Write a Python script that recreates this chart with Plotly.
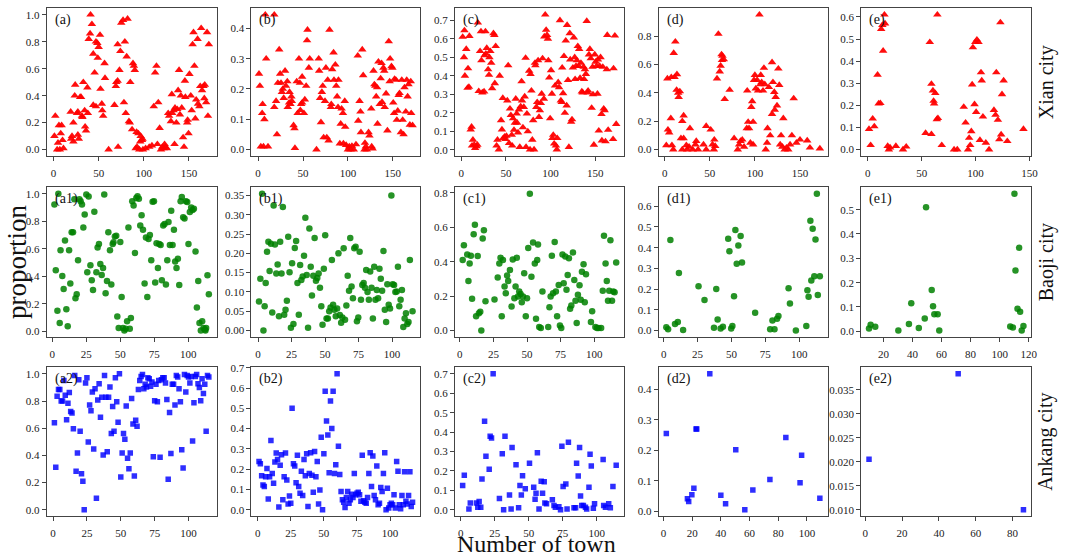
import plotly.graph_objects as go

# ---- values (x = number of town, y = proportion) ----
a_pts = [(1,0.10),(2,0.25),(4,0.0),(5,0.05),(6,0.18),(7,0.0),(8,0.12),(9,0.18),(10,0.07),(11,0.01),
         (19,0.28),(19.5,0.08),(20.5,0.10),(22,0.06),(22,0.20),(23.5,0.40),(24,0.48),(26,0.27),(27,0.11),(27,0.28),
         (28,0.08),(29.5,0.39),(30.5,0.39),(31.5,0.25),(32,0.24),(33,0.50),(34.5,0.29),(35,0.17),(36,0.14),(37.5,0.46),
         (38,0.27),(39,0.82),(40.5,0.86),(41,1.0),(42.5,0.93),(44,0.71),(44,0.33),(45.5,0.57),(47,0.32),(47,0.80),
         (48.5,0.79),(49,0.68),(50,0.76),(51.5,0.85),(52,0.45),(53.5,0.34),(54,0.29),(55,0.25),(56.5,0.64),(57,0.53),
         (61,0.0),(67.5,0.33),(69,0.47),(69.5,0.50),(71,0.78),(71,0.51),(71.5,0.02),(73,0.59),(74,0.73),(75,0.94),
         (77,0.96),(78,0.35),(79,0.80),(80,0.27),(81,0.69),(82,0.97),(83.5,0.21),(84.5,0.20),(85,0.50),(87,0.15),
         (88,0.64),(89,0.62),(90,0.59),(91,0.01),(92,0.13),(92.5,0.02),(94,0.12),(95,0.0),(96,0.06),(96.5,0.10),
         (98,0.07),(98.5,0.08),(99,0.0),(102,0.01),(106,0.02),(109,0.03),(111,0.32),(112.5,0.57),(114,0.62),(115,0.04),
         (116,0.35),(117.5,0.16),(119,0.0),(120.5,0.02),(122,0.01),(123,0.04),(124,0.02),(125.5,0.01),(127,0.27),(128,0.25),
         (130,0.21),(131,0.41),(131.5,0.27),(133,0.29),(134,0.04),(134.5,0.31),(136,0.20),(137,0.30),(138,0.44),(139,0.59),
         (140,0.26),(141,0.40),(142,0.31),(143.5,0.09),(144.5,0.02),(145.5,0.51),(146,0.39),(148,0.20),(148.5,0.22),(149.5,0.12),
         (150.5,0.56),(152,0.40),(153,0.29),(154,0.78),(155,0.87),(156,0.62),(157,0.23),(158,0.37),(159.5,0.82),(160,0.34),
         (161.5,0.32),(162.5,0.47),(163.5,0.90),(164.5,0.44),(166,0.47),(167,0.38),(167.5,0.48),(169,0.35),(170,0.87),(171,0.25),
         (172,0.78)]

b_pts = [(1,0.25),(2,0.21),(3,0.01),(4.5,0.12),(5,0.15),(6,0.01),(7,0.10),(8,0.445),(9,0.30),(11,0.01),
         (18,0.445),(18,0.14),(20,0.16),(21,0.05),(22,0.22),(23.5,0.33),(24.5,0.25),(25.5,0.22),(26.5,0.19),(27.5,0.20),
         (28.5,0.17),(30,0.26),(31,0.21),(32.5,0.225),(33,0.14),(34.5,0.155),(35,0.19),(36,0.15),(37,0.175),(37.5,0.16),
         (39.5,0.08),(40.5,0.07),(41,0.005),(43,0.225),(44,0.12),(45.5,0.30),(46.5,0.22),(47,0.13),(48,0.15),(49,0.24),
         (49,0.155),(51,0.12),(52,0.165),(53.5,0.21),(54.5,0.36),(55,0.395),(56.5,0.27),(57.5,0.30),(65,0.0),(67.5,0.30),
         (68,0.26),(69,0.17),(70,0.09),(71,0.19),(72,0.21),(73,0.04),(74.5,0.16),(75.5,0.27),(76.5,0.04),(77.5,0.23),
         (78.5,0.03),(79.5,0.395),(81,0.14),(81.5,0.15),(82.5,0.265),(84,0.32),(84.5,0.23),(86,0.28),(87,0.21),(88,0.175),
         (89,0.14),(89.5,0.23),(91,0.02),(92,0.085),(93,0.135),(94.5,0.12),(95,0.02),(96.5,0.16),(97,0.075),(98,0.015),
         (100,0.0),(101.5,0.01),(103,0.0),(104.5,0.012),(106.5,0.0),(109,0.017),(111,0.31),(111.5,0.095),(113,0.16),(114,0.125),
         (114.5,0.057),(116,0.33),(117,0.245),(118.5,0.0),(119,0.022),(120,0.01),(121,0.0),(123,0.057),(124,0.046),(126,0.135),
         (126.5,0.01),(127.5,0.003),(128.5,0.26),(129.5,0.215),(130.5,0.21),(131.5,0.175),(132.5,0.205),(133,0.085),(134,0.29),(135.5,0.15),
         (136.5,0.235),(137.5,0.285),(138,0.157),(139.5,0.27),(140.5,0.26),(141,0.14),(142.5,0.185),(144,0.063),(145.5,0.357),(146.5,0.225),
         (147,0.30),(148.5,0.275),(149.5,0.27),(150.5,0.155),(151.5,0.12),(152,0.233),(153.5,0.23),(154.5,0.098),(155.5,0.128),(156.5,0.18),
         (157.5,0.186),(159,0.057),(160,0.23),(161,0.098),(162,0.05),(163,0.205),(164.5,0.125),(165.5,0.23),(166.5,0.175),(167.5,0.215),
         (169,0.082),(170,0.225),(170.5,0.12),(172,0.08)]

c_pts = [(1.5,0.61),(3,0.50),(3.5,0.645),(4,0.40),(5.5,0.545),(7,0.335),(7.5,0.44),(8.5,0.34),(9,0.615),(10.5,0.11),
         (11.5,0.125),(12,0.023),(13,0.055),(14.5,0.028),(15.5,0.01),(17,0.02),(18,0.028),(18.5,0.687),(19.5,0.317),(21,0.533),
         (22,0.64),(22.5,0.483),(23.5,0.31),(25.5,0.315),(26,0.51),(27,0.64),(27.5,0.52),(28.5,0.55),(30,0.435),(31,0.405),
         (31.5,0.50),(32.5,0.533),(33.5,0.47),(34.5,0.333),(36,0.63),(37,0.62),(37.5,0.36),(38.5,0.56),(39.5,0.023),(40.5,0.055),
         (42,0.002),(43,0.40),(44.5,0.16),(45.5,0.11),(46.5,0.28),(47,0.064),(48.5,0.072),(49.5,0.058),(50.5,0.076),(51.5,0.267),
         (52.5,0.456),(53.5,0.037),(54.5,0.223),(55.5,0.188),(56.5,0.081),(57,0.023),(58,0.17),(59,0.108),(60,0.147),(61,0.276),
         (62,0.196),(62.5,0.147),(63.5,0.094),(64.5,0.218),(65.5,0.016),(66.5,0.235),(67.5,0.37),(68,0.267),(69,0.122),(70,0.232),
         (71,0.288),(72,0.497),(72.5,0.016),(73.5,0.196),(74.5,0.10),(76,0.427),(77,0.002),(77.5,0.41),(78.5,0.32),(79.5,0.055),
         (80.5,0.16),(81.5,0.002),(82.5,0.47),(83,0.456),(84,0.232),(85,0.258),(86,0.483),(87,0.178),(88,0.214),(89,0.253),
         (90,0.303),(91,0.494),(92.5,0.276),(93,0.612),(94,0.73),(95,0.648),(96,0.62),(97,0.60),(97.5,0.483),(98.5,0.39),
         (99.5,0.17),(100.5,0.43),(101.5,0.303),(102,0.064),(103,0.081),(104,0.034),(105,0.347),(106,0.023),(107,0.002),(107.5,0.064),
         (108.5,0.365),(109.5,0.338),(110.5,0.70),(111.5,0.267),(112.5,0.258),(113,0.444),(114,0.306),(115,0.506),(116,0.20),(117,0.59),
         (118,0.24),(118.5,0.674),(119.5,0.377),(120.5,0.016),(121.5,0.63),(122,0.488),(123,0.152),(124,0.165),(125,0.444),(126,0.607),
         (127,0.50),(127.5,0.382),(128.5,0.453),(129.5,0.483),(130.5,0.56),(131.5,0.453),(132,0.545),(133,0.388),(134,0.47),(135,0.315),
         (136,0.31),(137,0.448),(137.5,0.382),(138.5,0.435),(139.5,0.41),(140.5,0.696),(141.5,0.31),(142,0.32),(143,0.515),(144,0.545),
         (145,0.494),(146,0.227),(147,0.448),(147.5,0.30),(148.5,0.028),(149.5,0.515),(150.5,0.476),(151.5,0.453),(152.5,0.303),(153,0.488),
         (154,0.104),(155,0.453),(156,0.50),(157,0.193),(157.5,0.051),(158.5,0.448),(159.5,0.223),(160.5,0.214),(161.5,0.046),(163,0.435),
         (163.5,0.62),(164.5,0.108),(170,0.058),(170.5,0.44),(172,0.617),(173.5,0.14)]

d_pts = [(1.8,0.03),(3,0.50),(3.6,0.14),(5,0.12),(6.8,0.22),(7.3,0.51),(8,0.03),(9.5,0.0),(10,0.68),(11.8,0.76),
         (10.9,0.51),(13.6,0.53),(13.2,0.42),(15,0.40),(15.5,0.37),(16.8,0.41),(18,0.08),(19.5,0.20),(21,0.24),(19.5,0.0),
         (21,0.08),(24,0.03),(25,0.0),(27,0.02),(28,0.15),(31,0.0),(34,0.036),(35,0.06),(37,0.0),(43,0.036),
         (46,0.0),(46,0.166),(51,0.14),(53,0.036),(54.5,0.0),(55,0.07),(56,0.025),(58,0.50),(59.5,0.815),(61,0.55),
         (62,0.59),(63,0.67),(63.5,0.63),(64,0.66),(65.5,0.635),(66.5,0.355),(72,0.42),(77,0.08),(81,0.0),(82.5,0.036),
         (84,0.06),(86,0.07),(88,0.02),(91,0.15),(91.5,0.415),(92.5,0.195),(93.5,0.15),(95,0.048),(96,0.30),(97,0.34),
         (98,0.195),(98,0.036),(99,0.49),(100,0.525),(101,0.43),(102.5,0.49),(103.5,0.415),(105,0.95),(106,0.46),(106.5,0.525),
         (107.5,0.475),(109,0.415),(110,0.575),(111,0.46),(112,0.0),(113.5,0.048),(114,0.15),(115.5,0.44),(117,0.10),(119,0.25),
         (119,0.615),(120,0.475),(121.5,0.405),(122,0.28),(123,0.37),(124.5,0.31),(126,0.57),(127,0.455),(128,0.036),(129,0.10),
         (130.5,0.02),(131.5,0.22),(133,0.0),(135,0.014),(137,0.0),(139,0.036),(141,0.10),(143,0.36),(146,0.048),(150,0.07),
         (158,0.064),(161,0.014),(172,0.007)]

e_pts = [(1.1,0.093),(2.6,0.02),(4.5,0.14),(6,0.105),(9,0.338),(10,0.208),(11.6,0.21),(12.4,0.545),(13.5,0.563),(14.2,0.447),
         (15.4,0.61),(16,0.57),(18.4,0.016),(19.5,0.0),(20.6,0.009),(26,0.016),(32.6,0.0),(35.6,0.013),(53.6,0.075),(57.5,0.486),
         (59,0.07),(59,0.297),(60.4,0.267),(61,0.22),(61.5,0.208),(62.6,0.255),(64,0.137),(64.5,0.61),(65,0.142),(68.6,0.02),
         (80,0.0),(83,0.0),(89,0.193),(90.7,0.122),(93,0.0),(94,0.053),(95,0.02),(96,0.083),(96.8,0.294),(97.5,0.462),
         (99,0.205),(99.7,0.486),(100.5,0.17),(101.2,0.497),(102.7,0.486),(104,0.043),(105,0.349),(105.7,0.312),(106.8,0.149),(109.5,0.031),
         (112.5,0.0),(117,0.179),(118.5,0.157),(119.2,0.349),(120.7,0.134),(122,0.046),(123,0.575),(123.7,0.068),(124.5,0.25),(126,0.312),
         (129.4,0.038),(144.4,0.093)]

a1_pts = [(1.5,0.923),(2.5,0.444),(3.7,0.149),(4.4,1.0),(5.4,0.06),(6,0.59),(7.3,0.403),(8.3,0.307),(9.3,0.66),(10.3,0.16),
          (11.3,0.036),(12.3,0.59),(13.2,0.348),(14.2,0.72),(15.2,0.72),(16.2,0.96),(17,0.24),(17.9,0.27),(18.9,0.516),(19.9,0.96),
          (20.8,0.947),(21.8,0.923),(22.8,0.755),(23.8,0.85),(25,0.995),(25.7,0.43),(26.7,0.98),(28,0.48),(29,0.372),(29.9,0.30),
          (30.9,0.87),(32.4,0.43),(33.3,0.61),(34.3,0.635),(35.3,0.49),(36.3,0.41),(37.3,0.46),(38.2,0.995),(39.2,0.276),(40.2,0.365),
          (41.2,0.72),(42.4,0.59),(43.4,0.34),(44.4,0.635),(45,0.647),(46,0.69),(47,0.695),(47.8,0.108),(48.8,0.024),(50,0.65),
          (51,0.25),(52,0.024),(53,0.005),(54,0.019),(55,0.072),(56,0.755),(57,0.019),(57.8,0.096),(58.8,0.947),(59.8,0.916),
          (60.8,0.57),(61.8,0.97),(62.7,0.983),(63.7,0.964),(64.7,0.77),(65.7,0.844),(66.7,0.738),(67.9,0.348),(68.9,0.683),(69.9,0.25),
          (70.8,0.671),(71.8,0.70),(72.8,0.516),(73.8,0.942),(74.8,0.947),(75.7,0.355),(76.7,0.64),(77.7,0.46),(78.7,0.635),(79.7,0.628),
          (80.6,0.372),(81.6,0.77),(82.6,0.78),(83.6,0.34),(84.6,0.516),(85.5,0.796),(86.5,0.628),(87.5,0.878),(88.5,0.628),(89.5,0.738),
          (90.4,0.508),(91.4,0.46),(92.4,0.528),(93.4,0.336),(94.4,0.947),(95.3,0.978),(96.3,0.83),(97.3,0.82),(98.3,0.947),(99.3,0.94),
          (100.2,0.635),(101.2,0.868),(102.2,0.90),(103.2,0.883),(104.2,0.892),(105.4,0.58),(106.4,0.173),(107.4,0.365),(108.3,0.06),(109.3,0.005),
          (110.3,0.072),(111.3,0.024),(112.3,0.012),(112.7,0.005),(113.2,0.024),(114.2,0.408),(115.2,0.27)]

b1_pts = [(0.7,0.075),(1.7,0.134),(3,0.354),(4,0.0),(4.9,0.063),(5.7,0.123),(6.7,0.204),(7.7,0.23),(8.6,0.154),(9.6,0.225),
          (10.6,0.047),(11.6,0.324),(12.6,0.223),(13.6,0.148),(14.6,0.171),(15.6,0.037),(16.5,0.23),(17.5,0.148),(18.5,0.32),(19.5,0.041),
          (20.5,0.054),(21.5,0.077),(22.5,0.243),(23.5,0.151),(24.5,0.007),(25.4,0.174),(26.4,0.017),(27.4,0.214),(28.4,0.232),(29.4,0.123),
          (30.4,0.041),(31.4,0.17),(32.3,0.131),(33.3,0.14),(34.3,0.194),(35.3,0.292),(36.3,0.144),(37.3,0.007),(38.3,0.264),(39.3,0.165),
          (40.2,0.091),(41.2,0.142),(42.2,0.24),(43.2,0.129),(44.2,0.136),(45.2,0.148),(46.2,0.111),(47.2,0.063),(48.1,0.015),(49.1,0.16),
          (50.1,0.247),(51.1,0.031),(52.1,0.031),(53.1,0.05),(54.1,0.06),(55.1,0.183),(56,0.067),(57,0.054),(58,0.037),(59,0.057),
          (60,0.20),(61,0.04),(62,0.02),(62.9,0.034),(63.9,0.213),(64.9,0.028),(65.9,0.065),(66.9,0.142),(67.9,0.103),(68.8,0.24),
          (69.8,0.114),(70.8,0.084),(71.8,0.213),(72.8,0.217),(73.8,0.024),(74.8,0.034),(75.8,0.204),(76.8,0.08),(77.8,0.118),(78.8,0.123),
          (79.8,0.111),(80.7,0.157),(81.7,0.10),(82.7,0.08),(83.7,0.153),(84.7,0.111),(85.7,0.031),(86.7,0.165),(87.6,0.08),(88.6,0.105),
          (89.6,0.084),(90.6,0.16),(91.6,0.134),(92.6,0.103),(93.6,0.206),(94.6,0.054),(95.6,0.022),(96.5,0.12),(97.5,0.067),(98.5,0.057),
          (99.5,0.35),(100.5,0.12),(101.5,0.118),(102.5,0.10),(103.5,0.101),(104.4,0.165),(105.4,0.063),(106.4,0.08),(107.4,0.105),(108.4,0.009),
          (109.4,0.031),(110.4,0.045),(111.4,0.017),(112.3,0.022),(113.3,0.183),(115.3,0.05)]

c1_pts = [(2.1,0.41),(3,0.496),(5.5,0.442),(6.4,0.288),(7.3,0.39),(8.2,0.435),(9.1,0.185),(10.3,0.56),(11.2,0.615),(12.1,0.083),
          (13.3,0.433),(14.2,0.10),(15.2,0.11),(16,0.0),(17,0.535),(17.9,0.583),(19.1,0.17),(25.8,0.18),(28.2,0.308),(29.4,0.39),
          (30.3,0.423),(31.2,0.083),(32.1,0.41),(33.3,0.256),(34.2,0.217),(35.2,0.32),(36,0.288),(37.3,0.352),(38.5,0.14),(39.4,0.413),
          (40.6,0.188),(41.5,0.256),(42.4,0.423),(43.3,0.198),(44.2,0.227),(45.2,0.212),(46.1,0.165),(47,0.198),(47.9,0.333),(49.1,0.083),
          (50,0.188),(50.9,0.48),(52.1,0.794),(53.3,0.313),(54.5,0.512),(55.8,0.39),(56.7,0.069),(57.6,0.41),(58.2,0.50),(59.1,0.02),
          (60.3,0.015),(61.5,0.227),(65.8,0.02),(66.7,0.135),(67.6,0.198),(68.5,0.435),(69.4,0.217),(70.6,0.515),(71.5,0.227),(72.4,0.083),
          (73.6,0.265),(74.5,0.03),(75.5,0.015),(76.4,0.442),(77.3,0.275),(78.5,0.43),(79.4,0.237),(80.3,0.323),(81.2,0.42),(82.1,0.127),
          (83,0.146),(84.2,0.454),(85.2,0.294),(86.1,0.173),(87,0.044),(87.9,0.208),(89.1,0.263),(90,0.179),(90.9,0.342),(92.1,0.385),
          (93,0.165),(93.9,0.327),(97.6,0.05),(98.5,0.112),(100.9,0.02),(102.1,0.015),(103.3,0.015),(105.2,0.015),(106.4,0.231),(107.3,0.55),
          (108.5,0.39),(109.4,0.288),(110.3,0.173),(111.2,0.231),(112.1,0.525),(113.3,0.173),(114.2,0.227),(115.2,0.223),(116.4,0.396)]

d1_pts = [(1.9,0.016),(3.2,0.006),(4.9,0.437),(8.3,0.032),(10.4,0.041),(11.2,0.278),(14.3,0.003),(25.7,0.214),(30.1,0.147),(37.1,0.013),
          (38.8,0.201),(39.8,0.054),(42,0.01),(43.7,0.019),(47.6,0.443),(48.5,0.383),(49.8,0.01),(50.7,0.022),(51.9,0.166),(52.9,0.485),
          (53.9,0.322),(55.1,0.411),(56.8,0.456),(57.8,0.329),(67.5,0.086),(78.6,0.006),(80.3,0.048),(81.8,0.006),(83.7,0.057),(84.7,0.07),
          (92.2,0.204),(93.2,0.131),(97.6,0.0),(105.3,0.022),(106.1,0.195),(107,0.163),(108.3,0.53),(109,0.242),(110,0.491),(111.2,0.262),
          (112.1,0.44),(113.1,0.66),(113.8,0.172),(115.3,0.262)]

e1_pts = [(10,0.011),(11.1,0.027),(14.3,0.019),(30.2,0.003),(37.5,0.03),(39.1,0.115),(44.3,0.014),(48.4,0.053),(49.3,0.51),(53.2,0.17),
          (54.1,0.103),(55,0.07),(57.3,0.07),(58.4,0.003),(107.3,0.02),(109.1,0.016),(110.2,0.565),(110.9,0.25),(112.3,0.093),(113.4,0.343),
          (114.1,0.08),(115.2,0.003),(116.4,0.022)]

a2_pts = [(1,0.64),(2,0.313),(3,0.836),(4,0.884),(5,0.884),(6,0.80),(7,0.80),(8,0.952),(9,0.843),(10,0.662),
          (11,0.783),(12,0.863),(13,0.723),(14,0.711),(15,0.595),(16,0.988),(17,0.282),(18,0.417),(19,0.957),(20,0.578),
          (21,0.265),(22,0.21),(23,0.0),(24,0.933),(25,0.971),(26,0.499),(27,0.771),(28,0.728),(29,0.867),(30,0.446),
          (31,0.891),(32,0.084),(33,0.807),(34,0.928),(35,0.68),(36,0.827),(37,0.402),(38,0.988),(39,0.827),(40,0.427),
          (41,0.827),(42,0.904),(43,0.561),(44,0.759),(45,0.578),(46,0.971),(47,0.795),(48,0.643),(49,1.0),(50,0.241),
          (51,0.417),(52,0.561),(53,0.518),(54,0.764),(55,0.378),(56,0.301),(57,0.417),(58,0.819),(59,0.631),(60,0.248),
          (61,0.658),(62,0.614),(63,0.884),(64,0.952),(65,0.981),(66,0.995),(67,0.891),(68,0.923),(69,0.904),(70,0.971),
          (71,0.964),(72,0.908),(73,0.94),(74,0.39),(75,0.802),(76,0.923),(77,0.795),(78,0.952),(79,0.386),(80,0.957),
          (81,0.971),(82,0.971),(83,0.933),(84,0.812),(85,0.224),(86,0.716),(87,0.414),(88,0.923),(89,0.923),(90,0.771),
          (91,0.988),(92,0.976),(93,0.891),(94,0.795),(95,0.441),(96,0.306),(97,0.995),(98,0.867),(99,0.988),(100,0.976),
          (101,0.933),(102,0.981),(103,0.506),(104,0.788),(105,0.981),(106,0.995),(107,0.928),(108,0.899),(109,0.802),(110,0.964),
          (111,0.855),(112,0.923),(113,0.578),(114,0.988),(115,0.976)]

b2_pts = [(1,0.238),(2,0.227),(3,0.167),(4,0.122),(5,0.114),(6,0.162),(7,0.203),(8,0.052),(9,0.162),(10,0.341),
          (11,0.179),(12,0.13),(13,0.235),(14,0.279),(15,0.247),(16,0.013),(17,0.219),(18,0.271),(19,0.049),(20,0.162),
          (21,0.279),(22,0.146),(23,0.028),(24,0.068),(25,0.032),(26,0.50),(27,0.227),(28,0.216),(29,0.133),(30,0.268),
          (31,0.114),(32,0.081),(33,0.19),(34,0.07),(35,0.248),(36,0.167),(37,0.276),(38,0.016),(39,0.179),(40,0.281),
          (41,0.17),(42,0.086),(43,0.287),(44,0.162),(45,0.238),(46,0.028),(47,0.097),(48,0.357),(49,0.0),(50,0.276),
          (51,0.584),(52,0.438),(53,0.368),(54,0.182),(55,0.536),(56,0.401),(57,0.584),(58,0.179),(59,0.222),(60,0.67),
          (61,0.313),(62,0.174),(63,0.089),(64,0.049),(65,0.037),(66,0.011),(67,0.06),(68,0.089),(69,0.032),(70,0.049),
          (71,0.076),(72,0.06),(73,0.179),(74,0.073),(75,0.081),(76,0.086),(77,0.073),(78,0.041),(79,0.268),(80,0.044),
          (81,0.037),(82,0.032),(83,0.06),(84,0.179),(85,0.281),(86,0.114),(87,0.265),(88,0.07),(89,0.049),(90,0.216),
          (91,0.024),(92,0.032),(93,0.109),(94,0.089),(95,0.179),(96,0.281),(97,0.0),(98,0.106),(99,0.008),(100,0.024),
          (101,0.032),(102,0.024),(103,0.073),(104,0.008),(105,0.238),(106,0.19),(107,0.024),(108,0.005),(109,0.07),(110,0.024),
          (111,0.187),(112,0.041),(113,0.028),(114,0.07),(115,0.187),(116,0.016),(117,0.037)]

c2_pts = [(1.4,0.125),(2.6,0.178),(6,0.003),(7,0.034),(11.5,0.034),(12.5,0.012),(13.5,0.042),(14.7,0.012),(15.6,0.158),(17.5,0.456),
          (18.5,0.275),(20.9,0.208),(21.6,0.378),(22.6,0.37),(23.8,0.70),(28.4,0.058),(30.5,0.288),(31.5,0.0),(32.5,0.378),(35.8,0.075),
          (37,0.003),(37.7,0.32),(40.6,0.232),(42.5,0.01),(43.5,0.125),(44.5,0.075),(45.4,0.175),(47.4,0.108),(50.5,0.239),(53.6,0.115),
          (54.6,0.054),(55.3,0.085),(56.3,0.293),(57.5,0.003),(59.1,0.147),(60.1,0.085),(61.3,0.144),(61.8,0.034),(63,0.03),(67.3,0.051),
          (68.5,0.022),(69.5,0.012),(72.1,0.015),(73.3,0.0),(74.3,0.327),(75.2,0.119),(77.2,0.132),(78.1,0.003),(79.1,0.347),(83.2,0.01),
          (84.4,0.01),(85.1,0.239),(86.3,0.173),(87.3,0.32),(88,0.071),(88.9,0.022),(90.1,0.022),(91.6,0.012),(92.5,0.003),(94.2,0.115),
          (95,0.286),(95.9,0.225),(97.4,0.007),(98.3,0.03),(104.6,0.258),(105,0.022),(106.3,0.012),(108.7,0.03),(109.9,0.01),(111.8,0.119),
          (114.2,0.229)]

d2_pts = [(2,0.255),(16.7,0.042),(17.6,0.033),(19.8,0.055),(21.2,0.076),(22.7,0.27),(23.2,0.27),(32.3,0.45),(40,0.053),(43.3,0.025),
          (50.4,0.202),(56.7,0.006),(62.3,0.07),(74.2,0.105),(85.3,0.242),(95.2,0.094),(96.3,0.184),(109,0.043)]

e2_pts = [(2,0.0205),(50.5,0.0383),(86,0.010)]

panel_labels = ["(a)", "(b)", "(c)", "(d)", "(e)",
                "(a1)", "(b1)", "(c1)", "(d1)", "(e1)",
                "(a2)", "(b2)", "(c2)", "(d2)", "(e2)"]
panel_data = [a_pts, b_pts, c_pts, d_pts, e_pts,
              a1_pts, b1_pts, c1_pts, d1_pts, e1_pts,
              a2_pts, b2_pts, c2_pts, d2_pts, e2_pts]
city_names = ["Xian city", "Baoji city", "Ankang city"]

# tick spacing per panel (x step, y step, y format)
x_steps = [50, 50, 50, 50, 50, 25, 25, 25, 25, 20, 25, 25, 25, 20, 20]
y_steps = [0.2, 0.1, 0.1, 0.2, 0.1, 0.2, 0.05, 0.2, 0.1, 0.1, 0.2, 0.1, 0.1, 0.1, 0.005]
y_fmts = [".1f"] * 6 + [".2f"] + [".1f"] * 7 + [".3f"]

# ---- layout geometry (pixels of the 1065x559 page) ----
W, H = 1065, 559
col_px = [(47, 218), (253, 423), (458, 628), (663, 833), (867, 1038)]
row_px = [(3, 153), (184, 336), (366, 517)]
row_style = [
    dict(symbol="triangle-up", size=7.5, color="rgba(255,0,0,0.95)"),
    dict(symbol="circle", size=6.5, color="rgba(0,128,0,0.85)"),
    dict(symbol="square", size=5.5, color="rgba(0,0,255,0.82)"),
]
FONT = "Liberation Serif"
AX = "#444444"


def padded(vals):
    lo, hi = min(vals), max(vals)
    span = hi - lo
    return [lo - 0.05 * span, hi + 0.05 * span]


fig = go.Figure()
layout = {}
annotations = []

for i, pts in enumerate(panel_data):
    r, c = divmod(i, 5)
    n = i + 1
    xs = [p[0] for p in pts]
    ys = [p[1] for p in pts]
    xa = "x" if n == 1 else f"x{n}"
    ya = "y" if n == 1 else f"y{n}"
    fig.add_trace(go.Scatter(x=xs, y=ys, mode="markers", xaxis=xa, yaxis=ya,
                             marker=dict(line=dict(width=0), **row_style[r]),
                             showlegend=False, hoverinfo="skip"))
    x0, x1 = col_px[c]
    y0, y1 = row_px[r]
    common = dict(showgrid=False, zeroline=False, showline=True, mirror=True,
                  linecolor=AX, linewidth=1, ticks="outside", ticklen=4,
                  tickcolor=AX, tickfont=dict(family=FONT, size=11, color="#222"))
    layout["xaxis" if n == 1 else f"xaxis{n}"] = dict(
        domain=[x0 / W, x1 / W], anchor=ya, range=padded(xs),
        tick0=0, dtick=x_steps[i], ticklabelstandoff=2, **common)
    layout["yaxis" if n == 1 else f"yaxis{n}"] = dict(
        domain=[1 - y1 / H, 1 - y0 / H], anchor=xa, range=padded(ys),
        tick0=0, dtick=y_steps[i], tickformat=y_fmts[i], **common)
    annotations.append(dict(text=panel_labels[i], xref="paper", yref="paper",
                            x=(x0 + 6) / W, y=1 - (y0 + 2) / H,
                            xanchor="left", yanchor="top", showarrow=False,
                            font=dict(family=FONT, size=14, color="#111")))

for r, name in enumerate(city_names):
    y0, y1 = row_px[r]
    annotations.append(dict(text=name, xref="paper", yref="paper",
                            x=1053 / W, y=1 - (y0 + y1) / 2 / H, textangle=-90,
                            xanchor="center", yanchor="middle", showarrow=False,
                            font=dict(family=FONT, size=20, color="#111")))

annotations.append(dict(text="proportion", xref="paper", yref="paper",
                        x=17 / W, y=1 - 260 / H, textangle=-90,
                        xanchor="center", yanchor="middle", showarrow=False,
                        font=dict(family=FONT, size=27, color="#111")))
annotations.append(dict(text="Number of town", xref="paper", yref="paper",
                        x=540 / W, y=0, xanchor="center", yanchor="bottom",
                        showarrow=False, borderpad=0,
                        font=dict(family=FONT, size=24, color="#111")))

fig.update_layout(width=W, height=H, margin=dict(l=0, r=0, t=0, b=0),
                  paper_bgcolor="white", plot_bgcolor="white",
                  annotations=annotations, **layout)

# the page's default body margin would push the 1065x559 figure off the window
fig.write_html("out.html", post_script="document.body.style.margin='0';",
               config={"displayModeBar": False})
